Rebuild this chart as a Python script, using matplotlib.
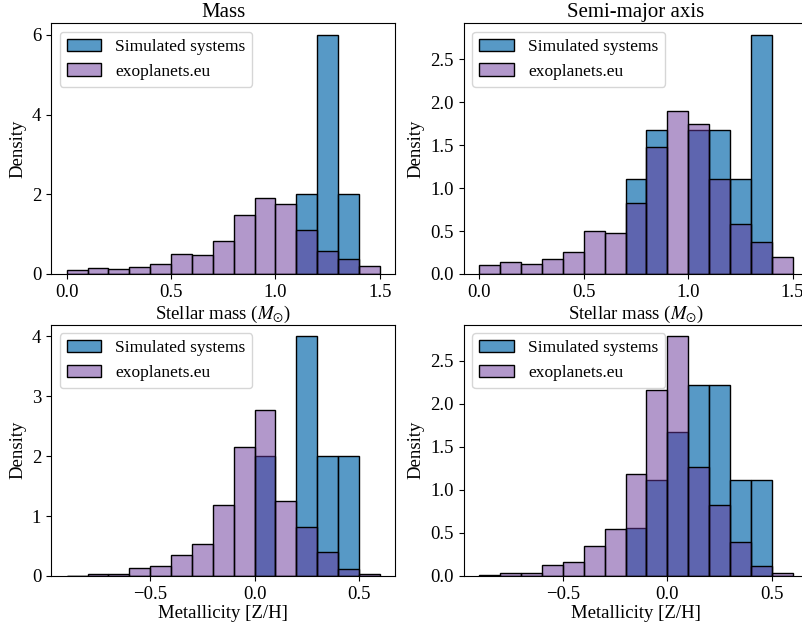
import numpy as np
import matplotlib
matplotlib.use("Agg")
import matplotlib.pyplot as plt
from matplotlib.colors import to_rgba

plt.rcParams["font.family"] = ["Liberation Serif", "DejaVu Serif"]
plt.rcParams["mathtext.fontset"] = "stix"
plt.rcParams["axes.unicode_minus"] = True

# Bin edges (width 0.1)
mass_edges = np.round(np.arange(0.0, 1.51, 0.1), 2)
met_edges = np.round(np.arange(-0.9, 0.61, 0.1), 2)

# exoplanets.eu host-star densities
exo_mass = [0.10, 0.14, 0.12, 0.17, 0.26, 0.50, 0.48, 0.83, 1.48, 1.90, 1.75, 1.10, 0.58, 0.37, 0.20]
exo_met = [0.006, 0.03, 0.03, 0.13, 0.16, 0.35, 0.54, 1.18, 2.16, 2.78, 1.26, 0.82, 0.40, 0.12, 0.03]

# Simulated systems, mass-selected sample
sim_mass_mass = [0, 0, 0, 0, 0, 0, 0, 0, 0, 0, 0, 2.0, 6.0, 2.0, 0]
sim_met_mass = [0, 0, 0, 0, 0, 0, 0, 0, 0, 2.0, 0, 4.0, 2.0, 2.0, 0]

# Simulated systems, semi-major-axis-selected sample
sim_mass_sma = [0, 0, 0, 0, 0, 0, 0, 1.11, 1.67, 0, 1.67, 1.67, 1.11, 2.78, 0]
sim_met_sma = [0, 0, 0, 0, 0, 0, 0, 0.56, 1.11, 1.67, 2.22, 2.22, 1.11, 1.11, 0]

titles = ["Mass", "Semi-major axis"]
xlabel_mass = r"Stellar mass ($M_{\odot}$)"
xlabel_met = "Metallicity [Z/H]"
sim_label = "Simulated systems"
exo_label = "exoplanets.eu"

sim_face = to_rgba("#1f77b4", 0.75)
exo_face = to_rgba("rebeccapurple", 0.5)

fig = plt.figure(figsize=(8.02, 6.29), dpi=100)
W, H = 802, 629


def px_axes(left, top, width, height):
    return fig.add_axes([left / W, 1 - (top + height) / H, width / W, height / H])


axes = [
    [px_axes(51, 23, 344.5, 251), px_axes(463.7, 23, 344.5, 251)],
    [px_axes(51, 324.5, 344.5, 251.5), px_axes(463.7, 324.5, 344.5, 251.5)],
]


def draw(ax, edges, sim, exo, xlabel, yticks):
    widths = np.diff(edges)
    ax.bar(edges[:-1], sim, width=widths, align="edge", facecolor=sim_face,
           edgecolor="black", linewidth=1.0, label=sim_label)
    ax.bar(edges[:-1], exo, width=widths, align="edge", facecolor=exo_face,
           edgecolor="black", linewidth=1.0, label=exo_label)
    ax.set_xlim(edges[0] - 0.075, edges[-1] + 0.075)
    ax.set_ylim(0, max(max(sim), max(exo)) * 1.05)
    ax.set_yticks(yticks)
    ax.set_xlabel(xlabel, fontsize=13.5, labelpad=2)
    ax.set_ylabel("Density", fontsize=13.5, labelpad=4)
    ax.tick_params(labelsize=13.5)
    ax.legend(loc="upper left", fontsize=12.5, handlelength=2.0,
              borderaxespad=0.5)


draw(axes[0][0], mass_edges, sim_mass_mass, exo_mass, xlabel_mass, [0, 2, 4, 6])
draw(axes[0][1], mass_edges, sim_mass_sma, exo_mass, xlabel_mass,
     [0.0, 0.5, 1.0, 1.5, 2.0, 2.5])
draw(axes[1][0], met_edges, sim_met_mass, exo_met, xlabel_met, [0, 1, 2, 3, 4])
draw(axes[1][1], met_edges, sim_met_sma, exo_met, xlabel_met,
     [0.0, 0.5, 1.0, 1.5, 2.0, 2.5])

for ax in axes[0]:
    ax.set_xticks([0.0, 0.5, 1.0, 1.5])
for ax in axes[1]:
    ax.set_xticks([-0.5, 0.0, 0.5])
for ax, t in zip(axes[0], titles):
    ax.set_title(t, fontsize=15, pad=4)

fig.savefig("out.png", dpi=100)
